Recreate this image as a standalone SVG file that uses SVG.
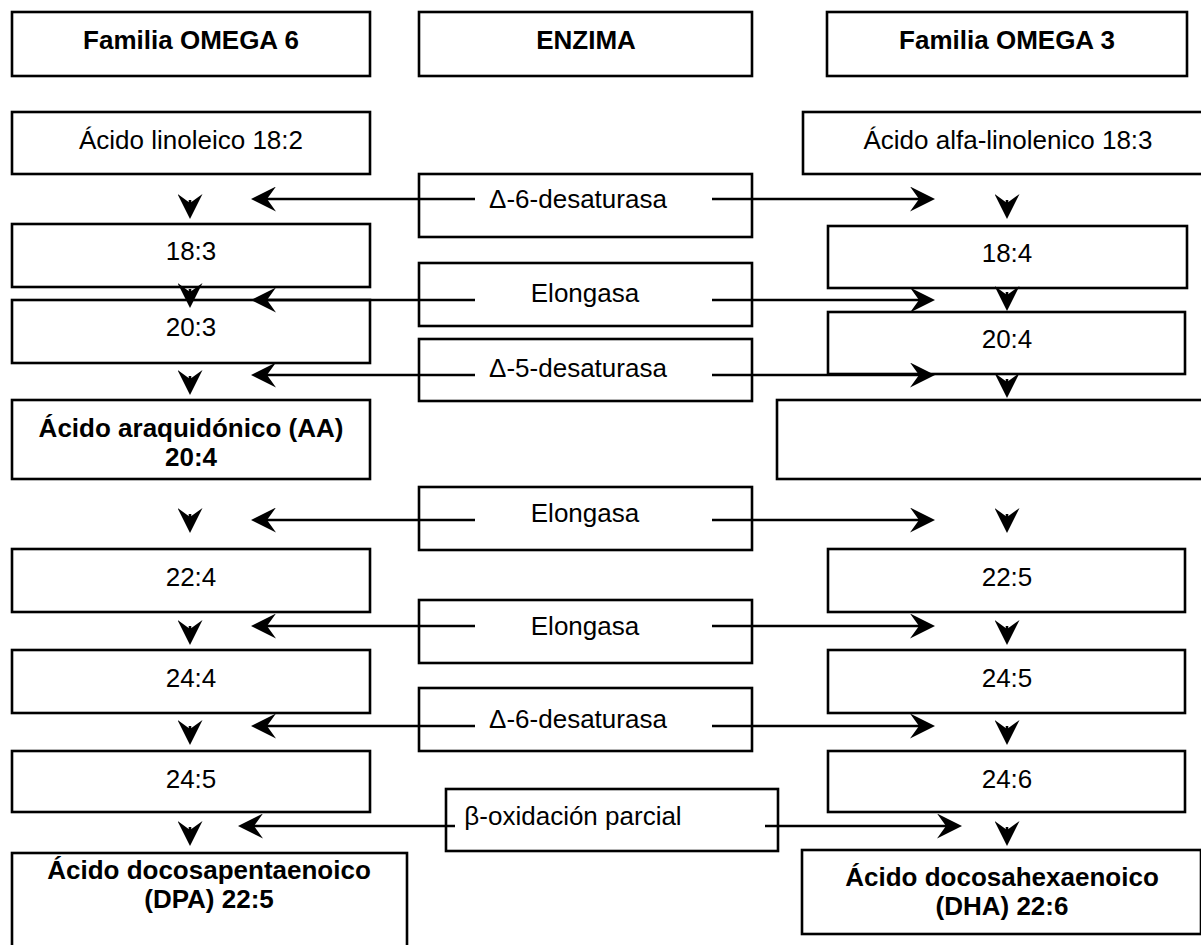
<svg xmlns="http://www.w3.org/2000/svg" width="1201" height="945" viewBox="0 0 1201 945">
<style>
.b{fill:#fff;stroke:#000;stroke-width:2.6}
.t{font-family:"Liberation Sans",Arial,sans-serif;font-size:26px;fill:#000;text-anchor:middle}
.tb{font-weight:bold}
.c{stroke:#000;stroke-width:2.6;fill:none;marker-end:url(#ah)}
</style>
<defs>
<marker id="ah" viewBox="0 0 25 25" refX="9" refY="12.5" markerWidth="25" markerHeight="25" markerUnits="userSpaceOnUse" orient="auto">
<path d="M25,12.5 L0,0 L9,12.5 L0,25 Z" fill="#000"/>
</marker>
</defs>
<rect width="1201" height="945" fill="#fff"/>

<g id="h6"><rect class="b" x="12" y="12" width="358" height="64"/><text class="t tb" x="191" y="49">Familia OMEGA 6</text></g>
<g id="hen"><rect class="b" x="419" y="12" width="333" height="64"/><text class="t tb" x="586" y="49">ENZIMA</text></g>
<g id="h3"><rect class="b" x="827" y="12" width="360" height="64"/><text class="t tb" x="1007" y="49">Familia OMEGA 3</text></g>

<g id="l1"><rect class="b" x="12" y="112" width="358" height="62"/><text class="t" x="191" y="149">Ácido linoleico 18:2</text></g>
<g id="l2"><rect class="b" x="12" y="224" width="358" height="63"/><text class="t" x="191" y="260">18:3</text></g>
<g id="l3"><rect class="b" x="12" y="300" width="358" height="63"/><text class="t" x="191" y="336">20:3</text></g>
<g id="l4"><rect class="b" x="12" y="400" width="358" height="79"/><text class="t tb" x="191" y="437">Ácido araquidónico (AA)</text><text class="t tb" x="191" y="466">20:4</text></g>
<g id="l5"><rect class="b" x="12" y="549" width="358" height="63"/><text class="t" x="191" y="586">22:4</text></g>
<g id="l6"><rect class="b" x="12" y="650" width="358" height="63"/><text class="t" x="191" y="687">24:4</text></g>
<g id="l7"><rect class="b" x="12" y="751" width="358" height="61"/><text class="t" x="191" y="788">24:5</text></g>
<g id="l8"><rect class="b" x="12" y="853" width="395" height="100"/><text class="t tb" x="209" y="879">Ácido docosapentaenoico</text><text class="t tb" x="209" y="908">(DPA) 22:5</text></g>

<g id="r1"><rect class="b" x="803" y="112" width="410" height="62"/><text class="t" x="1008" y="149">Ácido alfa-linolenico 18:3</text></g>
<g id="r2"><rect class="b" x="828" y="226" width="359" height="62"/><text class="t" x="1007" y="262">18:4</text></g>
<g id="r3"><rect class="b" x="828" y="312" width="357" height="62"/><text class="t" x="1007" y="348">20:4</text></g>
<g id="r4"><rect class="b" x="777" y="400" width="440" height="79"/></g>
<g id="r5"><rect class="b" x="828" y="549" width="357" height="63"/><text class="t" x="1007" y="586">22:5</text></g>
<g id="r6"><rect class="b" x="828" y="650" width="357" height="63"/><text class="t" x="1007" y="687">24:5</text></g>
<g id="r7"><rect class="b" x="828" y="751" width="357" height="61"/><text class="t" x="1007" y="788">24:6</text></g>
<g id="r8"><rect class="b" x="802" y="850" width="399" height="84"/><text class="t tb" x="1002" y="886">Ácido docosahexaenoico</text><text class="t tb" x="1002" y="915">(DHA) 22:6</text></g>

<g id="e1"><rect class="b" x="419" y="174" width="333" height="63"/><text class="t" x="578" y="208">Δ-6-desaturasa</text></g>
<g id="e2"><rect class="b" x="419" y="263" width="333" height="63"/><text class="t" x="585" y="302">Elongasa</text></g>
<g id="e3"><rect class="b" x="419" y="339" width="333" height="62"/><text class="t" x="578" y="377">Δ-5-desaturasa</text></g>
<g id="e4"><rect class="b" x="419" y="487" width="333" height="63"/><text class="t" x="585" y="522">Elongasa</text></g>
<g id="e5"><rect class="b" x="419" y="600" width="333" height="63"/><text class="t" x="585" y="635">Elongasa</text></g>
<g id="e6"><rect class="b" x="419" y="688" width="333" height="63"/><text class="t" x="578" y="728">Δ-6-desaturasa</text></g>
<g id="e7"><rect class="b" x="446" y="789" width="332" height="62"/><text class="t" x="573" y="825">β-oxidación parcial</text></g>

<g id="connectors">
<line class="c" x1="475" y1="199" x2="267" y2="199"/><line class="c" x1="712" y1="199" x2="919" y2="199"/>
<line class="c" x1="475" y1="300" x2="267" y2="300"/><line class="c" x1="712" y1="300" x2="919" y2="300"/>
<line class="c" x1="475" y1="375" x2="267" y2="375"/><line class="c" x1="712" y1="375" x2="919" y2="375"/>
<line class="c" x1="475" y1="520" x2="267" y2="520"/><line class="c" x1="712" y1="520" x2="919" y2="520"/>
<line class="c" x1="475" y1="626" x2="267" y2="626"/><line class="c" x1="712" y1="626" x2="919" y2="626"/>
<line class="c" x1="475" y1="726" x2="267" y2="726"/><line class="c" x1="712" y1="726" x2="919" y2="726"/>
<line class="c" x1="455" y1="826" x2="254" y2="826"/><line class="c" x1="765" y1="826" x2="946" y2="826"/>
<line class="c" x1="190" y1="200" x2="190" y2="203"/><line class="c" x1="1007" y1="200" x2="1007" y2="203"/>
<line class="c" x1="190" y1="289" x2="190" y2="292"/><line class="c" x1="1007" y1="292" x2="1007" y2="295"/>
<line class="c" x1="190" y1="376" x2="190" y2="379"/><line class="c" x1="1007" y1="379" x2="1007" y2="382"/>
<line class="c" x1="190" y1="514" x2="190" y2="517"/><line class="c" x1="1007" y1="514" x2="1007" y2="517"/>
<line class="c" x1="190" y1="626" x2="190" y2="629"/><line class="c" x1="1007" y1="626" x2="1007" y2="629"/>
<line class="c" x1="190" y1="726" x2="190" y2="729"/><line class="c" x1="1007" y1="726" x2="1007" y2="729"/>
<line class="c" x1="190" y1="827" x2="190" y2="830"/><line class="c" x1="1007" y1="827" x2="1007" y2="830"/>
</g>
</svg>
